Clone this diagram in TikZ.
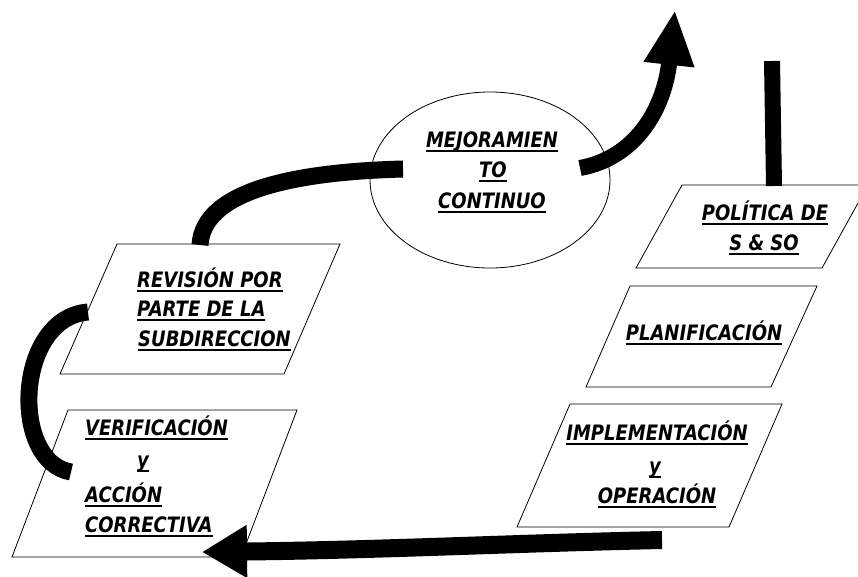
\documentclass[tikz,border=0pt]{standalone}
\usepackage{fontspec}
\usepackage{graphicx}
\newfontfamily\labelfont{DejaVu Sans}
\usetikzlibrary{arrows.meta,shapes.geometric}
% underlined word: slightly tall lettering with a rule a few points under the baseline
\newcommand{\ulw}[1]{\setbox0=\hbox{\scalebox{1}[1.18]{#1}}\rlap{\rule[-4.5pt]{\wd0}{2pt}}\box0}
\begin{document}
\begin{tikzpicture}[x=1pt,y=-1pt,
  boxline/.style={draw=black,line width=0.8pt},
  flow/.style={draw=black,line width=17pt},
  lbl/.style={inner sep=0pt,font=\labelfont\bfseries\itshape\fontsize{18}{18}\selectfont},
  lblc/.style={lbl,anchor=base},
  lbll/.style={lbl,anchor=base west}]
\useasboundingbox (0,0) rectangle (858,576);
\fill[white] (0,0) rectangle (858,576);

% connector end points
\coordinate (revTop) at (200,245);
\coordinate (revLeft) at (88,312);
\coordinate (verLeft) at (71,472);
\coordinate (verIn) at (202,552);
\coordinate (impOut) at (662,540);
\coordinate (polTop) at (774,186);
\coordinate (barEnd) at (772,61);
\coordinate (mejIn) at (403,169);
\coordinate (mejOut) at (580,168);
\coordinate (upTip) at (675,10);

% thick connectors
\draw[flow] (revTop) .. controls (203,192) and (290,172) .. (mejIn);
\draw[flow,line width=16pt,-{Triangle[length=55pt,width=47pt]}]
  (mejOut) .. controls (635,158) and (664,110) .. (upTip);
\draw[flow,line width=16pt] (polTop) -- (barEnd);
\draw[flow] (revLeft) .. controls (15,318) and (10,462) .. (verLeft);
\draw[flow,line width=18pt,-{Triangle[length=45pt,width=50pt]}]
  (impOut) .. controls (520,543) and (380,550) .. (verIn);

% ellipse
\node[boxline,ellipse,minimum width=240pt,minimum height=176pt,inner sep=0pt] (mej) at (490,180) {};
\node[lblc] (mej1) at (492,147) {\ulw{MEJORAMIEN}};
\node[lblc] (mej2) at (493,177) {\ulw{TO}};
\node[lblc] (mej3) at (492,208) {\ulw{CONTINUO}};

% parallelograms
\draw[boxline] (682,185) -- (868,185) -- (822,268) -- (636,268) -- cycle;
\draw[boxline] (630,286) -- (817,286) -- (771,387) -- (586,387) -- cycle;
\draw[boxline] (570,404) -- (782,404) -- (729,527) -- (517,527) -- cycle;
\draw[boxline] (117,244) -- (340,244) -- (284,374) -- (60,374) -- cycle;
\draw[boxline] (68,410) -- (297,410) -- (241,557) -- (12,557) -- cycle;

% labels
\node[lblc] (pol1) at (765,220) {\ulw{POLÍTICA DE}};
\node[lblc] (pol2) at (764,250) {\ulw{S \& SO}};
\node[lblc] (pla1) at (704,340) {\ulw{PLANIFICACIÓN}};
\node[lblc] (imp1) at (657,440) {\ulw{IMPLEMENTACIÓN}};
\node[lblc] (imp2) at (655,473) {\ulw{y}};
\node[lblc] (imp3) at (657,503) {\ulw{OPERACIÓN}};
\node[lbll] (rev1) at (137,287) {\ulw{REVISIÓN POR}};
\node[lbll] (rev2) at (137,316) {\ulw{PARTE DE LA}};
\node[lbll] (rev3) at (138,346) {\ulw{SUBDIRECCION}};
\node[lbll] (ver1) at (85,435) {\ulw{VERIFICACIÓN}};
\node[lblc] (ver2) at (143,467) {\ulw{y}};
\node[lbll] (ver3) at (85,502) {\ulw{ACCIÓN}};
\node[lbll] (ver4) at (85,532) {\ulw{CORRECTIVA}};
\end{tikzpicture}
\end{document}
